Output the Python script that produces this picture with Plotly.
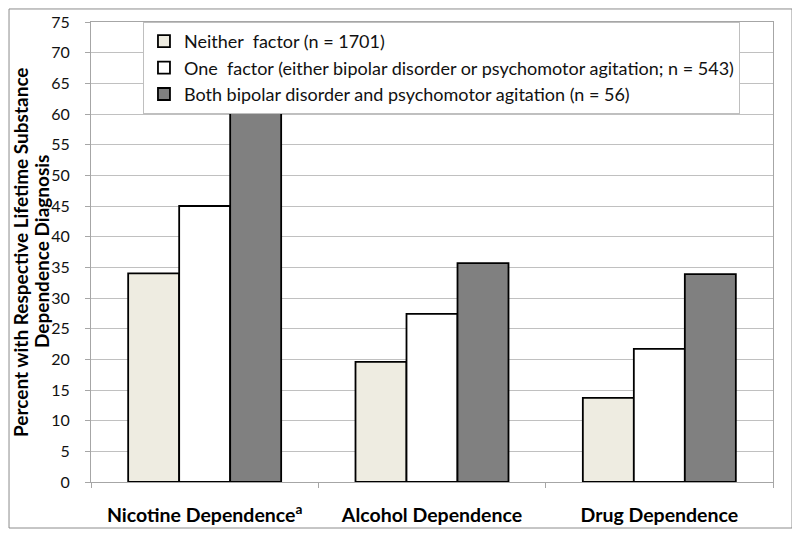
import plotly.graph_objects as go

categories = ["Nicotine Dependence<sup>a</sup>", "Alcohol Dependence", "Drug Dependence"]
series_names = [
    "Neither\u00a0 factor (n = 1701)",
    "One\u00a0 factor (either bipolar disorder or psychomotor agitation; n = 543)",
    "Both bipolar disorder and psychomotor agitation (n = 56)",
]
neither_vals = [34.0, 19.6, 13.7]
one_vals = [45.0, 27.4, 21.7]
both_vals = [60.3, 35.7, 33.9]
y_ticks = list(range(0, 80, 5))
y_title_lines = ["Percent with Respective Lifetime Substance", "Dependence Diagnosis"]

colors = ["#EEECE1", "#FFFFFF", "#808080"]
FONT = "Lato, 'Open Sans', sans-serif"

fig = go.Figure()
for name, vals, col in zip(series_names, [neither_vals, one_vals, both_vals], colors):
    fig.add_trace(go.Bar(
        x=categories, y=vals, name=name,
        marker=dict(color=col, line=dict(color="#000000", width=1.8)),
    ))

# page body has an 8px margin, so figure is 792x525 and offsets are reduced by 8
fig.update_layout(
    width=792, height=525,
    margin=dict(l=83, r=27, t=14, b=51, autoexpand=False),
    paper_bgcolor="white", plot_bgcolor="white",
    barmode="group", bargap=0.327, bargroupgap=0,
    font=dict(family=FONT, size=16, color="#111111"),
    showlegend=True,
    legend=dict(
        x=0.0762, y=1.0, xanchor="left", yanchor="top",
        bgcolor="white", bordercolor="#BFBFBF", borderwidth=1,
        font=dict(family=FONT, size=18, color="#111111"),
        itemwidth=30, tracegroupgap=0,
    ),
    xaxis=dict(
        type="category", showgrid=False, automargin=False,
        showline=True, linecolor="#A6A6A6", linewidth=1, mirror=True,
        ticks="outside", tickson="boundaries", ticklen=5, tickcolor="#A6A6A6",
        tickfont=dict(family=FONT, size=19.5, color="#000000", weight="bold"),
        ticklabelstandoff=16,
    ),
    yaxis=dict(
        range=[0, 75], tickvals=y_ticks, showgrid=True, gridcolor="#C0C0C0", gridwidth=1,
        showline=True, linecolor="#A6A6A6", linewidth=1, mirror=True, automargin=False,
        ticks="outside", ticklen=5, tickcolor="#A6A6A6",
        tickfont=dict(family=FONT, size=16, color="#111111"),
        ticklabelstandoff=12, zeroline=False,
    ),
    shapes=[dict(
        type="rect", xref="paper", yref="paper",
        x0=-0.1202, x1=1.0279, y0=-0.1, y1=1.0283,
        line=dict(color="#8C8C8C", width=1), fillcolor="rgba(0,0,0,0)", layer="below",
    )],
)

for txt, xpos in zip(y_title_lines, [-0.1041, -0.0733]):
    fig.add_annotation(
        text=txt, xref="paper", yref="paper", x=xpos, y=0.5,
        xanchor="center", yanchor="middle", textangle=-90, showarrow=False,
        font=dict(family=FONT, size=19, color="#000000", weight="bold"),
    )

fig.write_html("out.html")
